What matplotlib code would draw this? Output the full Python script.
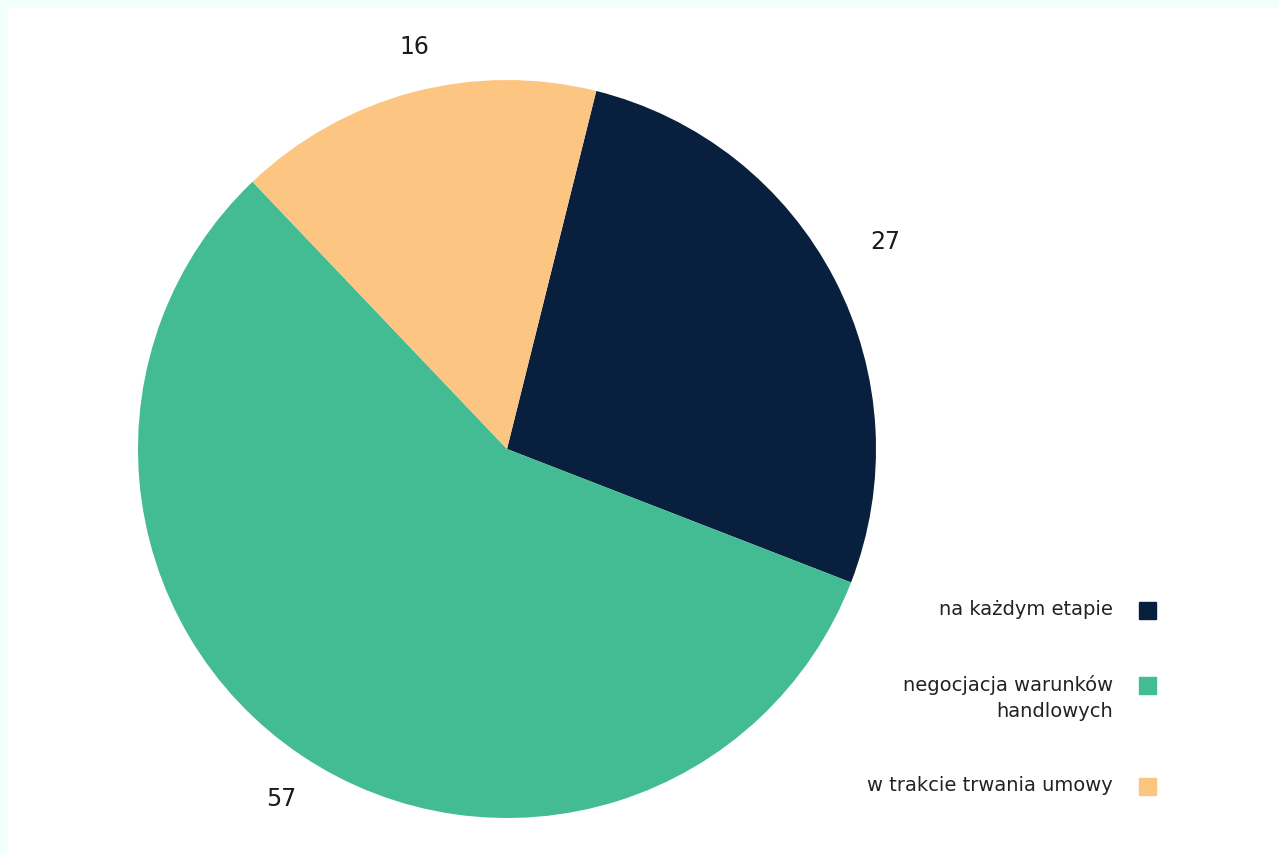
import matplotlib.pyplot as plt
from matplotlib.patches import Rectangle
import numpy as np

labels = ["na każdym etapie", "negocjacja warunków\nhandlowych", "w trakcie trwania umowy"]
values = [27, 57, 16]
colors = ["#08203e", "#44bc93", "#fdc582"]

W, H = 1279, 854
fig = plt.figure(figsize=(W / 100, H / 100), dpi=100)
fig.patch.set_facecolor("white")

# thin mint strip along top and left edges
fig.patches.append(Rectangle((0, 1 - 8 / H), 1, 8 / H, transform=fig.transFigure,
                             color="#f3fffa", zorder=0))
fig.patches.append(Rectangle((0, 0), 7 / W, 1, transform=fig.transFigure,
                             color="#f3fffa", zorder=0))

cx, cy, r = 507, 450, 369
ax = fig.add_axes([(cx - r) / W, (H - cy - r) / H, 2 * r / W, 2 * r / H])
wedges, _ = ax.pie(values, colors=colors, startangle=76, counterclock=False,
                   radius=1, wedgeprops=dict(linewidth=0))
ax.set_xlim(-1, 1)
ax.set_ylim(-1, 1)
ax.set_aspect("equal")
ax.axis("off")

# value labels just outside each wedge (small per-label nudges)
nudge_deg = [1.4, 0.9, -1.9]
label_r = [1.17, 1.125, 1.12]
for w, v, dth, rr in zip(wedges, values, nudge_deg, label_r):
    mid = np.deg2rad((w.theta1 + w.theta2) / 2 + dth)
    ax.text(rr * np.cos(mid), rr * np.sin(mid), str(v), ha="center", va="center",
            fontsize=17, color="#1a1a1a", clip_on=False)

# legend on the right, text right-aligned next to squares
y = 611
for lab, col in zip(labels, colors):
    fig.patches.append(Rectangle((1139 / W, 1 - (y + 8.5) / H), 17 / W, 17 / H,
                                 transform=fig.transFigure, color=col))
    fig.text(1113 / W, 1 - (y - 11) / H, lab, ha="right", va="top", ma="right",
             fontsize=14, color="#222222", linespacing=1.45)
    y += 75 + 26 * lab.count("\n")

fig.savefig("out.png", dpi=100, facecolor=fig.get_facecolor())
